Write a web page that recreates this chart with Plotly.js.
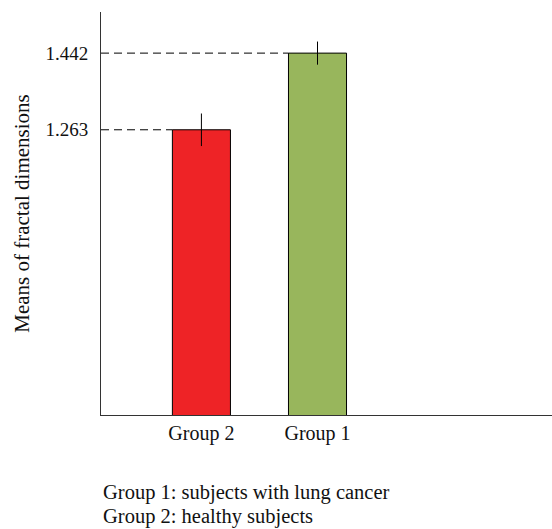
<!DOCTYPE html>
<html><head><meta charset="utf-8">
<script src="https://cdn.plot.ly/plotly-3.0.1.min.js"></script>
<style>html,body{margin:0;padding:0;background:#fff}#chart{width:552px;height:529px}</style>
</head><body><div id="chart"></div>
<script>
const categories = ["Group 2", "Group 1"];
const means = [1.263, 1.442];
const errors = [0.038, 0.027];
const barColors = ["#EE2326", "#98B65C"];
const yTickVals = [1.263, 1.442];
const yTickText = ["1.263", "1.442"];
const notes = ["Group 1: subjects with lung cancer", "Group 2: healthy subjects"];

const barWidth = 0.5;
const xRange = [-0.865, 3.02];
const yRange = [0.597, 1.538];
const font = "Liberation Serif, Times New Roman, serif";

const traces = [];
categories.forEach((c, i) => {
  traces.push({
    type: "scatter", mode: "lines",
    x: [xRange[0], i - barWidth / 2], y: [means[i], means[i]],
    line: {color: "#000", width: 1, dash: "8px,5px"},
    hoverinfo: "skip", showlegend: false
  });
});
traces.push({
  type: "bar",
  x: categories.map((c, i) => i),
  y: means,
  width: barWidth,
  marker: {color: barColors, line: {color: "#000", width: 1}},
  error_y: {type: "data", array: errors, visible: true, color: "#000", thickness: 1, width: 0},
  showlegend: false
});

const noteY = [-0.1935, -0.253];
const layout = {
  width: 552, height: 529,
  margin: {l: 101, r: 0, t: 12, b: 114},
  paper_bgcolor: "#fff", plot_bgcolor: "#fff",
  font: {family: font, size: 20, color: "#111"},
  showlegend: false,
  xaxis: {
    range: xRange, tickmode: "array",
    tickvals: categories.map((c, i) => i), ticktext: categories,
    showgrid: false, zeroline: false, showline: true, linecolor: "#333", linewidth: 1,
    ticks: "", tickfont: {family: font, size: 20, color: "#111"}
  },
  yaxis: {
    range: yRange, tickmode: "array", tickvals: yTickVals, ticktext: yTickText,
    showgrid: false, zeroline: false, showline: true, linecolor: "#333", linewidth: 1,
    ticks: "", ticklabelstandoff: 8, tickfont: {family: font, size: 19, color: "#111"},
    title: {text: "Means of fractal dimensions", standoff: 10, font: {family: font, size: 21, color: "#111"}}
  },
  annotations: notes.map((t, i) => ({
    xref: "paper", yref: "paper", x: 0, y: noteY[i], xanchor: "left", yanchor: "middle",
    xshift: 0, align: "left", showarrow: false,
    text: t, font: {family: font, size: 20.5, color: "#111"}
  }))
};
Plotly.newPlot("chart", traces, layout, {displayModeBar: false, staticPlot: true});
</script></body></html>
